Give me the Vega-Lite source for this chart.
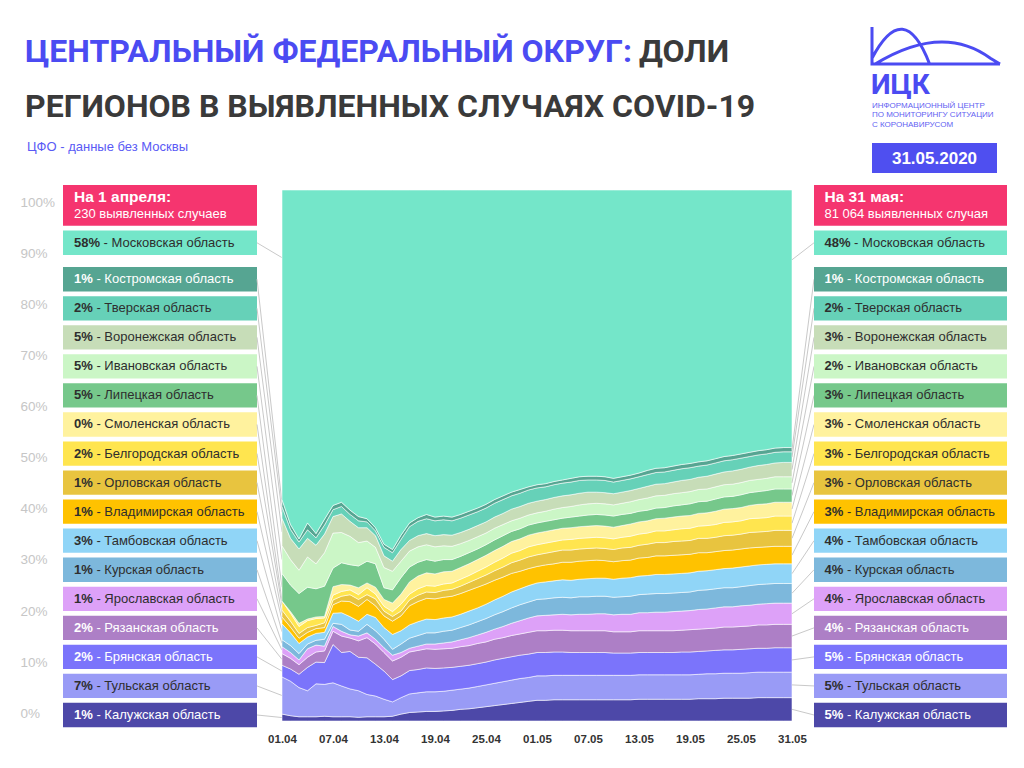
{
  "$schema": "https://vega.github.io/schema/vega-lite/v6.json",
  "autosize": {"type": "pad"},
  "padding": {"left": 20, "top": 0, "right": 17, "bottom": 5},
  "background": "white",
  "bounds": "flush",
  "spacing": 0,
  "config": {"view": {"stroke": null}, "font": "Liberation Sans", "axis": {"labelFont": "Liberation Sans"}},
  "datasets": {
    "regions": [
      {"r":"kal","rank":0,"name":"Калужская область","p0":1,"p1":5},
      {"r":"tul","rank":1,"name":"Тульская область","p0":7,"p1":5},
      {"r":"bry","rank":2,"name":"Брянская область","p0":2,"p1":5},
      {"r":"ryaz","rank":3,"name":"Рязанская область","p0":2,"p1":4},
      {"r":"yar","rank":4,"name":"Ярославская область","p0":1,"p1":4},
      {"r":"kur","rank":5,"name":"Курская область","p0":1,"p1":4},
      {"r":"tamb","rank":6,"name":"Тамбовская область","p0":3,"p1":4},
      {"r":"vlad","rank":7,"name":"Владимирская область","p0":1,"p1":3},
      {"r":"orl","rank":8,"name":"Орловская область","p0":1,"p1":3},
      {"r":"belg","rank":9,"name":"Белгородская область","p0":2,"p1":3},
      {"r":"smol","rank":10,"name":"Смоленская область","p0":0,"p1":3},
      {"r":"lip","rank":11,"name":"Липецкая область","p0":5,"p1":3},
      {"r":"ivan","rank":12,"name":"Ивановская область","p0":5,"p1":2},
      {"r":"vor","rank":13,"name":"Воронежская область","p0":5,"p1":3},
      {"r":"tver","rank":14,"name":"Тверская область","p0":2,"p1":2},
      {"r":"kost","rank":15,"name":"Костромская область","p0":1,"p1":1},
      {"r":"mos","rank":16,"name":"Московская область","p0":58,"p1":48}
    ],
    "daily": [
      {"d":"2020-04-01","kal":1.3,"tul":7.0,"bry":2.2,"ryaz":2.2,"yar":1.3,"kur":1.3,"tamb":3.0,"vlad":1.3,"orl":1.3,"belg":1.7,"smol":0,"lip":5.2,"ivan":5.2,"vor":5.2,"tver":2.2,"kost":1.3,"mos":58.3},
      {"d":"2020-04-02","kal":1.0,"tul":6.5,"bry":2.3,"ryaz":2.0,"yar":1.1,"kur":1.3,"tamb":2.4,"vlad":1.1,"orl":1.1,"belg":1.5,"smol":0.3,"lip":5.0,"ivan":4.8,"vor":4.0,"tver":1.7,"kost":0.9,"mos":63.0},
      {"d":"2020-04-03","kal":0.8,"tul":5.5,"bry":2.5,"ryaz":1.8,"yar":0.9,"kur":1.2,"tamb":1.9,"vlad":1.0,"orl":0.9,"belg":1.3,"smol":0.6,"lip":5.6,"ivan":4.4,"vor":4.0,"tver":1.3,"kost":0.6,"mos":65.7},
      {"d":"2020-04-04","kal":0.8,"tul":4.9,"bry":4.4,"ryaz":1.9,"yar":1.6,"kur":0.9,"tamb":1.3,"vlad":0.9,"orl":0.9,"belg":1.3,"smol":0.3,"lip":6.0,"ivan":5.7,"vor":3.5,"tver":1.6,"kost":1.3,"mos":62.7},
      {"d":"2020-04-05","kal":0.8,"tul":6.2,"bry":4.1,"ryaz":1.9,"yar":1.3,"kur":0.9,"tamb":1.3,"vlad":0.9,"orl":0.6,"belg":1.3,"smol":0.3,"lip":5.3,"ivan":4.7,"vor":3.5,"tver":1.4,"kost":0.8,"mos":64.7},
      {"d":"2020-04-06","kal":0.9,"tul":6.0,"bry":4.1,"ryaz":2.2,"yar":0.9,"kur":1.3,"tamb":1.3,"vlad":0.9,"orl":0.9,"belg":0.9,"smol":0.3,"lip":5.7,"ivan":6.3,"vor":3.5,"tver":1.7,"kost":1.1,"mos":62.0},
      {"d":"2020-04-07","kal":0.8,"tul":6.4,"bry":7.2,"ryaz":2.5,"yar":0.9,"kur":0.6,"tamb":1.9,"vlad":1.6,"orl":0.9,"belg":0.9,"smol":1.6,"lip":3.5,"ivan":6.6,"vor":3.1,"tver":1.3,"kost":0.8,"mos":59.4},
      {"d":"2020-04-08","kal":0.8,"tul":5.8,"bry":6.3,"ryaz":3.1,"yar":0.9,"kur":1.3,"tamb":2.2,"vlad":2.2,"orl":0.9,"belg":0.9,"smol":1.3,"lip":4.1,"ivan":5.7,"vor":3.5,"tver":1.4,"kost":0.8,"mos":58.8},
      {"d":"2020-04-09","kal":0.8,"tul":5.2,"bry":7.0,"ryaz":2.5,"yar":0.6,"kur":0.9,"tamb":2.5,"vlad":2.8,"orl":1.3,"belg":0.9,"smol":0.9,"lip":3.8,"ivan":5.3,"vor":2.8,"tver":1.3,"kost":0.8,"mos":59.8},
      {"d":"2020-04-10","kal":0.7,"tul":5.0,"bry":6.3,"ryaz":3.1,"yar":0.9,"kur":0.9,"tamb":1.9,"vlad":2.8,"orl":1.3,"belg":0.9,"smol":1.3,"lip":4.1,"ivan":4.4,"vor":2.8,"tver":1.3,"kost":0.8,"mos":61.5},
      {"d":"2020-04-11","kal":0.8,"tul":4.2,"bry":6.9,"ryaz":3.8,"yar":0.9,"kur":1.6,"tamb":1.9,"vlad":2.8,"orl":0.9,"belg":1.3,"smol":0.9,"lip":4.1,"ivan":3.8,"vor":2.5,"tver":1.1,"kost":0.6,"mos":61.9},
      {"d":"2020-04-12","kal":0.8,"tul":3.9,"bry":6.0,"ryaz":3.8,"yar":0.9,"kur":1.6,"tamb":2.5,"vlad":2.2,"orl":1.3,"belg":0.9,"smol":1.3,"lip":4.4,"ivan":3.1,"vor":2.2,"tver":0.9,"kost":0.6,"mos":63.6},
      {"d":"2020-04-13","kal":0.8,"tul":3.3,"bry":5.3,"ryaz":3.5,"yar":0.9,"kur":1.6,"tamb":2.2,"vlad":2.2,"orl":0.9,"belg":0.9,"smol":1.3,"lip":2.2,"ivan":3.8,"vor":2.2,"tver":1.6,"kost":0.6,"mos":66.7},
      {"d":"2020-04-14","kal":0.9,"tul":2.7,"bry":4.2,"ryaz":3.5,"yar":1.1,"kur":1.1,"tamb":2.8,"vlad":2.5,"orl":0.9,"belg":0.9,"smol":1.6,"lip":2.5,"ivan":3.5,"vor":1.9,"tver":1.6,"kost":0.6,"mos":67.7},
      {"d":"2020-04-15","kal":1.3,"tul":3.1,"bry":4.1,"ryaz":3.5,"yar":0.9,"kur":1.6,"tamb":2.5,"vlad":2.8,"orl":0.9,"belg":1.3,"smol":1.9,"lip":3.1,"ivan":3.1,"vor":2.2,"tver":1.9,"kost":0.8,"mos":65.0},
      {"d":"2020-04-16","kal":1.6,"tul":3.5,"bry":4.4,"ryaz":3.5,"yar":0.7,"kur":1.9,"tamb":2.5,"vlad":3.6,"orl":1.1,"belg":1.1,"smol":2.3,"lip":2.8,"ivan":3.0,"vor":2.0,"tver":2.6,"kost":0.7,"mos":62.7},
      {"d":"2020-04-17","kal":1.7,"tul":3.6,"bry":4.4,"ryaz":3.6,"yar":0.8,"kur":2.0,"tamb":2.6,"vlad":3.8,"orl":1.2,"belg":1.2,"smol":2.4,"lip":2.6,"ivan":2.9,"vor":2.1,"tver":2.7,"kost":0.7,"mos":61.7},
      {"d":"2020-04-18","kal":1.8,"tul":3.7,"bry":4.5,"ryaz":3.6,"yar":0.9,"kur":2.1,"tamb":2.6,"vlad":3.9,"orl":1.2,"belg":1.2,"smol":2.4,"lip":2.5,"ivan":2.8,"vor":2.1,"tver":2.8,"kost":0.8,"mos":61.1},
      {"d":"2020-04-19","kal":1.8,"tul":3.7,"bry":4.4,"ryaz":3.6,"yar":1.0,"kur":2.1,"tamb":2.5,"vlad":3.9,"orl":1.2,"belg":1.2,"smol":2.3,"lip":2.4,"ivan":2.7,"vor":2.1,"tver":2.8,"kost":0.7,"mos":61.6},
      {"d":"2020-04-20","kal":1.9,"tul":3.7,"bry":4.4,"ryaz":3.6,"yar":1.1,"kur":2.2,"tamb":2.5,"vlad":3.9,"orl":1.3,"belg":1.2,"smol":2.3,"lip":2.3,"ivan":2.6,"vor":2.1,"tver":2.8,"kost":0.7,"mos":61.4},
      {"d":"2020-04-21","kal":2.0,"tul":3.8,"bry":4.3,"ryaz":3.6,"yar":1.2,"kur":2.2,"tamb":2.5,"vlad":3.9,"orl":1.3,"belg":1.2,"smol":2.2,"lip":2.2,"ivan":2.5,"vor":2.1,"tver":2.7,"kost":0.7,"mos":61.6},
      {"d":"2020-04-22","kal":2.2,"tul":3.8,"bry":4.3,"ryaz":3.7,"yar":1.3,"kur":2.3,"tamb":2.5,"vlad":3.9,"orl":1.4,"belg":1.3,"smol":2.2,"lip":2.1,"ivan":2.4,"vor":2.1,"tver":2.7,"kost":0.7,"mos":61.1},
      {"d":"2020-04-23","kal":2.3,"tul":3.9,"bry":4.3,"ryaz":3.7,"yar":1.5,"kur":2.4,"tamb":2.6,"vlad":3.9,"orl":1.5,"belg":1.3,"smol":2.2,"lip":2.1,"ivan":2.3,"vor":2.1,"tver":2.7,"kost":0.7,"mos":60.5},
      {"d":"2020-04-24","kal":2.5,"tul":4.0,"bry":4.3,"ryaz":3.8,"yar":1.6,"kur":2.5,"tamb":2.6,"vlad":3.9,"orl":1.6,"belg":1.4,"smol":2.2,"lip":2.0,"ivan":2.3,"vor":2.1,"tver":2.6,"kost":0.7,"mos":59.9},
      {"d":"2020-04-25","kal":2.7,"tul":4.1,"bry":4.3,"ryaz":3.8,"yar":1.8,"kur":2.6,"tamb":2.7,"vlad":3.8,"orl":1.7,"belg":1.5,"smol":2.2,"lip":2.0,"ivan":2.2,"vor":2.1,"tver":2.6,"kost":0.7,"mos":59.2},
      {"d":"2020-04-26","kal":2.9,"tul":4.2,"bry":4.4,"ryaz":3.9,"yar":1.9,"kur":2.7,"tamb":2.8,"vlad":3.7,"orl":1.8,"belg":1.6,"smol":2.2,"lip":2.0,"ivan":2.2,"vor":2.1,"tver":2.6,"kost":0.7,"mos":58.3},
      {"d":"2020-04-27","kal":3.1,"tul":4.3,"bry":4.4,"ryaz":3.9,"yar":2.1,"kur":2.8,"tamb":2.9,"vlad":3.6,"orl":1.9,"belg":1.7,"smol":2.2,"lip":2.0,"ivan":2.1,"vor":2.1,"tver":2.6,"kost":0.7,"mos":57.6},
      {"d":"2020-04-28","kal":3.3,"tul":4.4,"bry":4.4,"ryaz":4.0,"yar":2.3,"kur":2.9,"tamb":3.0,"vlad":3.5,"orl":2.0,"belg":1.8,"smol":2.2,"lip":1.9,"ivan":2.0,"vor":2.2,"tver":2.5,"kost":0.7,"mos":56.9},
      {"d":"2020-04-29","kal":3.5,"tul":4.5,"bry":4.4,"ryaz":4.0,"yar":2.5,"kur":3.0,"tamb":3.0,"vlad":3.3,"orl":2.1,"belg":1.8,"smol":2.2,"lip":1.9,"ivan":2.0,"vor":2.2,"tver":2.5,"kost":0.7,"mos":56.4},
      {"d":"2020-04-30","kal":3.7,"tul":4.5,"bry":4.4,"ryaz":4.1,"yar":2.7,"kur":3.0,"tamb":3.1,"vlad":3.2,"orl":2.2,"belg":1.9,"smol":2.2,"lip":1.9,"ivan":1.9,"vor":2.2,"tver":2.5,"kost":0.6,"mos":55.9},
      {"d":"2020-05-01","kal":3.9,"tul":4.6,"bry":4.4,"ryaz":4.1,"yar":2.8,"kur":3.1,"tamb":3.1,"vlad":3.1,"orl":2.2,"belg":1.9,"smol":2.2,"lip":1.9,"ivan":1.9,"vor":2.2,"tver":2.5,"kost":0.6,"mos":55.5},
      {"d":"2020-05-02","kal":3.9,"tul":4.6,"bry":4.4,"ryaz":4.1,"yar":2.9,"kur":3.1,"tamb":3.2,"vlad":3.2,"orl":2.2,"belg":1.9,"smol":2.2,"lip":1.9,"ivan":1.9,"vor":2.2,"tver":2.4,"kost":0.6,"mos":55.3},
      {"d":"2020-05-03","kal":4.0,"tul":4.6,"bry":4.4,"ryaz":4.1,"yar":2.9,"kur":3.2,"tamb":3.2,"vlad":3.2,"orl":2.3,"belg":1.9,"smol":2.2,"lip":1.9,"ivan":2.0,"vor":2.2,"tver":2.4,"kost":0.6,"mos":54.9},
      {"d":"2020-05-04","kal":4.0,"tul":4.6,"bry":4.4,"ryaz":4.1,"yar":3.0,"kur":3.2,"tamb":3.3,"vlad":3.3,"orl":2.3,"belg":1.9,"smol":2.2,"lip":1.9,"ivan":2.0,"vor":2.2,"tver":2.4,"kost":0.6,"mos":54.6},
      {"d":"2020-05-05","kal":4.0,"tul":4.6,"bry":4.3,"ryaz":4.1,"yar":3.0,"kur":3.2,"tamb":3.3,"vlad":3.4,"orl":2.3,"belg":2.0,"smol":2.2,"lip":2.0,"ivan":2.0,"vor":2.2,"tver":2.4,"kost":0.7,"mos":54.3},
      {"d":"2020-05-06","kal":4.0,"tul":4.6,"bry":4.3,"ryaz":4.1,"yar":3.1,"kur":3.3,"tamb":3.3,"vlad":3.4,"orl":2.3,"belg":2.0,"smol":2.2,"lip":2.0,"ivan":2.1,"vor":2.2,"tver":2.4,"kost":0.7,"mos":54.0},
      {"d":"2020-05-07","kal":4.0,"tul":4.6,"bry":4.3,"ryaz":4.1,"yar":3.1,"kur":3.3,"tamb":3.4,"vlad":3.4,"orl":2.3,"belg":2.0,"smol":2.2,"lip":2.1,"ivan":2.1,"vor":2.2,"tver":2.3,"kost":0.7,"mos":53.9},
      {"d":"2020-05-08","kal":4.0,"tul":4.6,"bry":4.3,"ryaz":4.1,"yar":3.2,"kur":3.3,"tamb":3.4,"vlad":3.4,"orl":2.3,"belg":2.0,"smol":2.2,"lip":2.1,"ivan":2.1,"vor":2.1,"tver":2.3,"kost":0.7,"mos":53.9},
      {"d":"2020-05-09","kal":4.0,"tul":4.6,"bry":4.3,"ryaz":4.1,"yar":3.2,"kur":3.3,"tamb":3.4,"vlad":3.3,"orl":2.3,"belg":2.0,"smol":2.2,"lip":2.1,"ivan":2.1,"vor":2.1,"tver":2.3,"kost":0.7,"mos":54.0},
      {"d":"2020-05-10","kal":4.0,"tul":4.6,"bry":4.2,"ryaz":4.0,"yar":3.2,"kur":3.3,"tamb":3.4,"vlad":3.3,"orl":2.3,"belg":2.0,"smol":2.2,"lip":2.1,"ivan":2.1,"vor":2.1,"tver":2.2,"kost":0.7,"mos":54.3},
      {"d":"2020-05-11","kal":4.0,"tul":4.6,"bry":4.2,"ryaz":4.0,"yar":3.3,"kur":3.3,"tamb":3.5,"vlad":3.3,"orl":2.4,"belg":2.0,"smol":2.2,"lip":2.1,"ivan":2.1,"vor":2.1,"tver":2.2,"kost":0.7,"mos":54.0},
      {"d":"2020-05-12","kal":4.0,"tul":4.6,"bry":4.2,"ryaz":4.0,"yar":3.3,"kur":3.4,"tamb":3.5,"vlad":3.3,"orl":2.4,"belg":2.1,"smol":2.3,"lip":2.0,"ivan":2.2,"vor":2.1,"tver":2.2,"kost":0.7,"mos":53.7},
      {"d":"2020-05-13","kal":4.1,"tul":4.6,"bry":4.2,"ryaz":4.1,"yar":3.4,"kur":3.4,"tamb":3.5,"vlad":3.4,"orl":2.4,"belg":2.1,"smol":2.3,"lip":2.0,"ivan":2.2,"vor":2.1,"tver":2.2,"kost":0.7,"mos":53.3},
      {"d":"2020-05-14","kal":4.1,"tul":4.6,"bry":4.2,"ryaz":4.1,"yar":3.4,"kur":3.5,"tamb":3.5,"vlad":3.4,"orl":2.5,"belg":2.1,"smol":2.3,"lip":2.0,"ivan":2.3,"vor":2.2,"tver":2.2,"kost":0.8,"mos":52.8},
      {"d":"2020-05-15","kal":4.1,"tul":4.6,"bry":4.2,"ryaz":4.1,"yar":3.5,"kur":3.5,"tamb":3.6,"vlad":3.5,"orl":2.5,"belg":2.2,"smol":2.3,"lip":2.0,"ivan":2.3,"vor":2.2,"tver":2.2,"kost":0.8,"mos":52.4},
      {"d":"2020-05-16","kal":4.1,"tul":4.6,"bry":4.2,"ryaz":4.1,"yar":3.5,"kur":3.5,"tamb":3.6,"vlad":3.5,"orl":2.5,"belg":2.2,"smol":2.4,"lip":2.0,"ivan":2.3,"vor":2.2,"tver":2.2,"kost":0.8,"mos":52.3},
      {"d":"2020-05-17","kal":4.1,"tul":4.6,"bry":4.2,"ryaz":4.1,"yar":3.6,"kur":3.5,"tamb":3.6,"vlad":3.5,"orl":2.6,"belg":2.2,"smol":2.4,"lip":2.1,"ivan":2.3,"vor":2.2,"tver":2.2,"kost":0.8,"mos":52.0},
      {"d":"2020-05-18","kal":4.1,"tul":4.6,"bry":4.3,"ryaz":4.1,"yar":3.6,"kur":3.5,"tamb":3.6,"vlad":3.5,"orl":2.6,"belg":2.3,"smol":2.4,"lip":2.1,"ivan":2.3,"vor":2.3,"tver":2.2,"kost":0.8,"mos":51.7},
      {"d":"2020-05-19","kal":4.1,"tul":4.6,"bry":4.3,"ryaz":4.2,"yar":3.6,"kur":3.5,"tamb":3.6,"vlad":3.5,"orl":2.6,"belg":2.3,"smol":2.4,"lip":2.2,"ivan":2.3,"vor":2.3,"tver":2.2,"kost":0.8,"mos":51.5},
      {"d":"2020-05-20","kal":4.2,"tul":4.6,"bry":4.3,"ryaz":4.2,"yar":3.7,"kur":3.6,"tamb":3.6,"vlad":3.5,"orl":2.7,"belg":2.3,"smol":2.4,"lip":2.2,"ivan":2.3,"vor":2.3,"tver":2.1,"kost":0.8,"mos":51.2},
      {"d":"2020-05-21","kal":4.2,"tul":4.7,"bry":4.3,"ryaz":4.2,"yar":3.7,"kur":3.6,"tamb":3.6,"vlad":3.4,"orl":2.7,"belg":2.4,"smol":2.4,"lip":2.2,"ivan":2.3,"vor":2.4,"tver":2.1,"kost":0.8,"mos":51.0},
      {"d":"2020-05-22","kal":4.2,"tul":4.7,"bry":4.4,"ryaz":4.2,"yar":3.8,"kur":3.6,"tamb":3.6,"vlad":3.4,"orl":2.7,"belg":2.4,"smol":2.5,"lip":2.3,"ivan":2.3,"vor":2.4,"tver":2.1,"kost":0.8,"mos":50.6},
      {"d":"2020-05-23","kal":4.3,"tul":4.7,"bry":4.4,"ryaz":4.3,"yar":3.8,"kur":3.6,"tamb":3.6,"vlad":3.4,"orl":2.8,"belg":2.5,"smol":2.5,"lip":2.3,"ivan":2.3,"vor":2.4,"tver":2.1,"kost":0.8,"mos":50.2},
      {"d":"2020-05-24","kal":4.3,"tul":4.7,"bry":4.4,"ryaz":4.3,"yar":3.8,"kur":3.6,"tamb":3.7,"vlad":3.4,"orl":2.8,"belg":2.5,"smol":2.5,"lip":2.3,"ivan":2.3,"vor":2.5,"tver":2.1,"kost":0.8,"mos":50.0},
      {"d":"2020-05-25","kal":4.3,"tul":4.7,"bry":4.5,"ryaz":4.3,"yar":3.9,"kur":3.6,"tamb":3.7,"vlad":3.4,"orl":2.8,"belg":2.5,"smol":2.5,"lip":2.4,"ivan":2.3,"vor":2.5,"tver":2.1,"kost":0.8,"mos":49.7},
      {"d":"2020-05-26","kal":4.3,"tul":4.8,"bry":4.5,"ryaz":4.3,"yar":3.9,"kur":3.7,"tamb":3.7,"vlad":3.4,"orl":2.9,"belg":2.6,"smol":2.5,"lip":2.4,"ivan":2.3,"vor":2.5,"tver":2.0,"kost":0.8,"mos":49.4},
      {"d":"2020-05-27","kal":4.4,"tul":4.8,"bry":4.5,"ryaz":4.4,"yar":3.9,"kur":3.7,"tamb":3.7,"vlad":3.3,"orl":2.9,"belg":2.6,"smol":2.6,"lip":2.4,"ivan":2.3,"vor":2.6,"tver":2.0,"kost":0.8,"mos":49.1},
      {"d":"2020-05-28","kal":4.4,"tul":4.8,"bry":4.5,"ryaz":4.4,"yar":4.0,"kur":3.7,"tamb":3.7,"vlad":3.3,"orl":2.9,"belg":2.6,"smol":2.6,"lip":2.5,"ivan":2.3,"vor":2.6,"tver":2.0,"kost":0.8,"mos":48.9},
      {"d":"2020-05-29","kal":4.4,"tul":4.8,"bry":4.6,"ryaz":4.4,"yar":4.0,"kur":3.7,"tamb":3.7,"vlad":3.3,"orl":3.0,"belg":2.7,"smol":2.6,"lip":2.5,"ivan":2.3,"vor":2.6,"tver":2.0,"kost":0.8,"mos":48.6},
      {"d":"2020-05-30","kal":4.4,"tul":4.8,"bry":4.6,"ryaz":4.4,"yar":4.0,"kur":3.7,"tamb":3.7,"vlad":3.3,"orl":3.0,"belg":2.7,"smol":2.6,"lip":2.5,"ivan":2.3,"vor":2.7,"tver":2.0,"kost":0.8,"mos":48.5},
      {"d":"2020-05-31","kal":4.4,"tul":4.8,"bry":4.6,"ryaz":4.4,"yar":4.0,"kur":3.7,"tamb":3.7,"vlad":3.3,"orl":3.0,"belg":2.7,"smol":2.6,"lip":2.5,"ivan":2.3,"vor":2.7,"tver":2.0,"kost":0.8,"mos":48.5}
    ]
  },
  "vconcat": [
    {
      "width": 944,
      "height": 190,
      "data": {"values": [{}]},
      "layer": [
        {"mark": {"type": "text", "text": "ЦЕНТРАЛЬНЫЙ ФЕДЕРАЛЬНЫЙ ОКРУГ:", "font": "Roboto", "fontSize": 32, "fontWeight": "bold", "fill": "#4b4bf2", "align": "left", "baseline": "alphabetic", "x": -38, "y": 62}},
        {"mark": {"type": "text", "text": "ДОЛИ", "font": "Roboto", "fontSize": 32, "fontWeight": "bold", "fill": "#3a3a3a", "align": "left", "baseline": "alphabetic", "x": 576, "y": 62}},
        {"mark": {"type": "text", "text": "РЕГИОНОВ В ВЫЯВЛЕННЫХ СЛУЧАЯХ COVID-19", "font": "Roboto", "fontSize": 32, "fontWeight": "bold", "fill": "#3a3a3a", "align": "left", "baseline": "alphabetic", "x": -38, "y": 117}},
        {"mark": {"type": "text", "text": "ЦФО - данные без Москвы", "fontSize": 13, "fill": "#5a5af5", "align": "left", "baseline": "alphabetic", "x": -36, "y": 151}},
        {"mark": {"type": "point", "shape": "M-1,-0.29 L-1,0.29 L1,0.29 M-1,0.2 Q-0.5,-0.75 -0.1,0.29 M-0.95,0.29 Q0.1,-0.35 0.85,0.2 L1,0.29", "filled": false, "stroke": "#4b4bf2", "strokeWidth": 3, "size": 16384, "opacity": 1, "x": 873, "y": 45.5}},
        {"mark": {"type": "text", "text": "ИЦК", "font": "Roboto", "fontSize": 28, "fontWeight": "bold", "fill": "#4b4bf2", "align": "left", "baseline": "alphabetic", "x": 808, "y": 94}},
        {"mark": {"type": "text", "text": "ИНФОРМАЦИОННЫЙ ЦЕНТР", "fontSize": 8, "letterSpacing": 0.9, "fill": "#6262f2", "align": "left", "baseline": "alphabetic", "x": 809, "y": 107.5}},
        {"mark": {"type": "text", "text": "ПО МОНИТОРИНГУ СИТУАЦИИ", "fontSize": 8, "letterSpacing": 0.9, "fill": "#6262f2", "align": "left", "baseline": "alphabetic", "x": 809, "y": 117}},
        {"mark": {"type": "text", "text": "С КОРОНАВИРУСОМ", "fontSize": 8, "letterSpacing": 0.9, "fill": "#6262f2", "align": "left", "baseline": "alphabetic", "x": 809, "y": 126.5}},
        {"mark": {"type": "rect", "x": 809, "x2": 934, "y": 143, "y2": 173, "fill": "#4f4ff0"}},
        {"mark": {"type": "text", "text": "31.05.2020", "fontSize": 17, "fontWeight": "bold", "letterSpacing": 1, "fill": "white", "align": "center", "baseline": "middle", "x": 871.5, "y": 159}}
      ]
    },
    {
      "spacing": 0,
      "bounds": "flush",
      "hconcat": [
        {
          "width": 194,
          "height": 531,
          "resolve": {"scale": {"y": "independent"}, "axis": {"y": "independent"}},
          "layer": [
            {
              "data": {"values": [{"v": 0}, {"v": 100}]},
              "mark": {"type": "rule", "strokeOpacity": 0},
              "encoding": {
                "y": {"field": "v", "type": "quantitative", "scale": {"domain": [-1.507, 102.407], "nice": false, "zero": false},
                  "axis": {"orient": "left", "values": [0, 10, 20, 30, 40, 50, 60, 70, 80, 90, 100], "labelExpr": "datum.value + '%'", "domain": false, "ticks": false, "tickSize": 0, "grid": false, "title": null, "labelPadding": 43, "labelAlign": "left", "labelFontSize": 13.5, "labelColor": "#c6c6c6", "labelFont": "Liberation Sans"}}
              }
            },
            {
              "data": {"name": "regions"},
              "transform": [
                {"calculate": "datum.rank < 16 ? 0.0113 + 0.05471 * datum.rank : 0.9006", "as": "pos"},
                {"calculate": "datum.pos - 0.0229", "as": "lo"},
                {"calculate": "datum.pos + 0.0229", "as": "hi"},
                {"calculate": "datum.p0 + '%'", "as": "pt"},
                {"calculate": "'- ' + datum.name", "as": "nt"}
              ],
              "layer": [
                {
                  "mark": {"type": "rect"},
                  "encoding": {
                    "y": {"field": "lo", "type": "quantitative", "scale": {"domain": [0, 1], "nice": false, "zero": false}, "axis": null},
                    "y2": {"field": "hi"},
                    "color": {"field": "r", "type": "nominal", "legend": null, "scale": {"domain": ["kal","tul","bry","ryaz","yar","kur","tamb","vlad","orl","belg","smol","lip","ivan","vor","tver","kost","mos"], "range": ["#4d48a8","#999bf6","#7b74fb","#ad7fc6","#dda1f8","#7db8dc","#90d5f7","#ffc200","#e8c43f","#ffe54f","#fff29e","#76c88b","#cbf6c6","#c7ddb8","#66d1b8","#56a592","#74e6c9"]}}
                  }
                },
                {
                  "mark": {"type": "text", "align": "left", "baseline": "middle", "dx": -86, "fontSize": 13, "fontWeight": "bold"},
                  "encoding": {
                    "y": {"field": "pos", "type": "quantitative", "axis": null},
                    "text": {"field": "pt"},
                    "color": {"condition": {"test": "indexof(['kost','ryaz','bry','kal'], datum.r) >= 0", "value": "#ffffff"}, "value": "#2e2e2e"}
                  }
                },
                {
                  "transform": [{"filter": "datum.rank < 16"}],
                  "mark": {"type": "text", "align": "left", "baseline": "middle", "dx": -63.6, "fontSize": 13},
                  "encoding": {
                    "y": {"field": "pos", "type": "quantitative", "axis": null},
                    "text": {"field": "nt"},
                    "color": {"condition": {"test": "indexof(['kost','ryaz','bry','kal'], datum.r) >= 0", "value": "#ffffff"}, "value": "#2e2e2e"}
                  }
                },
                {
                  "transform": [{"filter": "datum.rank == 16"}],
                  "mark": {"type": "text", "align": "left", "baseline": "middle", "dx": -56.4, "fontSize": 13, "fill": "#2e2e2e"},
                  "encoding": {
                    "y": {"field": "pos", "type": "quantitative", "axis": null},
                    "text": {"field": "nt"}
                  }
                },
                {
                  "data": {"values": [{}]},
                  "mark": {"type": "rect", "fill": "#f5356f"},
                  "encoding": {
                    "y": {"datum": 0.9328, "type": "quantitative", "axis": null},
                    "y2": {"datum": 1.0094}
                  }
                },
                {
                  "data": {"values": [{}]},
                  "mark": {"type": "text", "text": "На 1 апреля:", "align": "left", "baseline": "alphabetic", "dx": -86, "fontSize": 15.5, "fontWeight": "bold", "fill": "white"},
                  "encoding": {"y": {"datum": 0.9774, "type": "quantitative", "axis": null}}
                },
                {
                  "data": {"values": [{}]},
                  "mark": {"type": "text", "text": "230 выявленных случаев", "align": "left", "baseline": "alphabetic", "dx": -86, "fontSize": 13, "fill": "white"},
                  "encoding": {"y": {"datum": 0.9482, "type": "quantitative", "axis": null}}
                }
              ]
            }
          ]
        },
        {
          "width": 25,
          "height": 531,
          "data": {"name": "daily"},
          "transform": [
            {"filter": "time(toDate(datum.d)) == time(toDate('2020-04-01'))"},
            {"fold": ["kal","tul","bry","ryaz","yar","kur","tamb","vlad","orl","belg","smol","lip","ivan","vor","tver","kost","mos"], "as": ["r", "v"]},
            {"lookup": "r", "from": {"data": {"name": "regions"}, "key": "r", "fields": ["rank"]}},
            {"stack": "v", "groupby": [], "sort": [{"field": "rank", "order": "ascending"}], "offset": "normalize", "as": ["s0", "s1"]},
            {"calculate": "datum.rank < 16 ? 0.0113 + 0.05471 * datum.rank : 0.9006", "as": "pos"},
            {"calculate": "datum.rank < 16 ? (datum.s0 + datum.s1) / 2 : datum.pos - 0.028", "as": "end"}
          ],
          "mark": {"type": "rule", "stroke": "#c9c9c9", "strokeWidth": 1},
          "encoding": {
            "x": {"datum": 0, "type": "quantitative", "scale": {"domain": [0, 1], "nice": false, "zero": false}, "axis": null},
            "x2": {"datum": 1},
            "y": {"field": "pos", "type": "quantitative", "scale": {"domain": [0, 1], "nice": false, "zero": false}, "axis": null},
            "y2": {"field": "end"}
          }
        },
        {
          "width": 510,
          "height": 531,
          "data": {"name": "daily"},
          "transform": [
            {"fold": ["kal","tul","bry","ryaz","yar","kur","tamb","vlad","orl","belg","smol","lip","ivan","vor","tver","kost","mos"], "as": ["r", "v"]},
            {"lookup": "r", "from": {"data": {"name": "regions"}, "key": "r", "fields": ["rank"]}}
          ],
          "mark": {"type": "area", "interpolate": "linear", "stroke": "white", "strokeWidth": 0.8, "strokeOpacity": 0.7},
          "encoding": {
            "x": {"field": "d", "type": "temporal", "scale": {"type": "utc", "nice": false},
              "axis": {"values": [
                {"year": 2020, "month": "apr", "date": 1, "utc": true},
                {"year": 2020, "month": "apr", "date": 7, "utc": true},
                {"year": 2020, "month": "apr", "date": 13, "utc": true},
                {"year": 2020, "month": "apr", "date": 19, "utc": true},
                {"year": 2020, "month": "apr", "date": 25, "utc": true},
                {"year": 2020, "month": "may", "date": 1, "utc": true},
                {"year": 2020, "month": "may", "date": 7, "utc": true},
                {"year": 2020, "month": "may", "date": 13, "utc": true},
                {"year": 2020, "month": "may", "date": 19, "utc": true},
                {"year": 2020, "month": "may", "date": 25, "utc": true},
                {"year": 2020, "month": "may", "date": 31, "utc": true}
              ], "format": "%d.%m", "labelFontWeight": "bold", "labelFontSize": 11.5, "labelColor": "#333333", "ticks": false, "domain": false, "grid": false, "title": null, "labelPadding": 12, "labelFlush": false, "labelOverlap": false, "labelFont": "Liberation Sans"}},
            "y": {"field": "v", "type": "quantitative", "stack": "normalize", "scale": {"domain": [0, 1], "nice": false}, "axis": null},
            "color": {"field": "r", "type": "nominal", "legend": null, "scale": {"domain": ["kal","tul","bry","ryaz","yar","kur","tamb","vlad","orl","belg","smol","lip","ivan","vor","tver","kost","mos"], "range": ["#4d48a8","#999bf6","#7b74fb","#ad7fc6","#dda1f8","#7db8dc","#90d5f7","#ffc200","#e8c43f","#ffe54f","#fff29e","#76c88b","#cbf6c6","#c7ddb8","#66d1b8","#56a592","#74e6c9"]}},
            "order": {"field": "rank", "type": "quantitative", "sort": "ascending"}
          }
        },
        {
          "width": 22,
          "height": 531,
          "data": {"name": "daily"},
          "transform": [
            {"filter": "time(toDate(datum.d)) == time(toDate('2020-05-31'))"},
            {"fold": ["kal","tul","bry","ryaz","yar","kur","tamb","vlad","orl","belg","smol","lip","ivan","vor","tver","kost","mos"], "as": ["r", "v"]},
            {"lookup": "r", "from": {"data": {"name": "regions"}, "key": "r", "fields": ["rank"]}},
            {"stack": "v", "groupby": [], "sort": [{"field": "rank", "order": "ascending"}], "offset": "normalize", "as": ["s0", "s1"]},
            {"calculate": "datum.rank < 16 ? 0.0113 + 0.05471 * datum.rank : 0.9006", "as": "pos"},
            {"calculate": "datum.rank < 16 ? (datum.s0 + datum.s1) / 2 : datum.pos - 0.032", "as": "end"}
          ],
          "mark": {"type": "rule", "stroke": "#c9c9c9", "strokeWidth": 1},
          "encoding": {
            "x": {"datum": 0, "type": "quantitative", "scale": {"domain": [0, 1], "nice": false, "zero": false}, "axis": null},
            "x2": {"datum": 1},
            "y": {"field": "end", "type": "quantitative", "scale": {"domain": [0, 1], "nice": false, "zero": false}, "axis": null},
            "y2": {"field": "pos"}
          }
        },
        {
          "width": 193,
          "height": 531,
          "data": {"name": "regions"},
          "transform": [
            {"calculate": "datum.rank < 16 ? 0.0113 + 0.05471 * datum.rank : 0.9006", "as": "pos"},
            {"calculate": "datum.pos - 0.0229", "as": "lo"},
            {"calculate": "datum.pos + 0.0229", "as": "hi"},
            {"calculate": "datum.p1 + '%'", "as": "pt"},
            {"calculate": "'- ' + datum.name", "as": "nt"}
          ],
          "layer": [
            {
              "mark": {"type": "rect"},
              "encoding": {
                "y": {"field": "lo", "type": "quantitative", "scale": {"domain": [0, 1], "nice": false, "zero": false}, "axis": null},
                "y2": {"field": "hi"},
                "color": {"field": "r", "type": "nominal", "legend": null, "scale": {"domain": ["kal","tul","bry","ryaz","yar","kur","tamb","vlad","orl","belg","smol","lip","ivan","vor","tver","kost","mos"], "range": ["#4d48a8","#999bf6","#7b74fb","#ad7fc6","#dda1f8","#7db8dc","#90d5f7","#ffc200","#e8c43f","#ffe54f","#fff29e","#76c88b","#cbf6c6","#c7ddb8","#66d1b8","#56a592","#74e6c9"]}}
              }
            },
            {
              "mark": {"type": "text", "align": "left", "baseline": "middle", "dx": -86, "fontSize": 13, "fontWeight": "bold"},
              "encoding": {
                "y": {"field": "pos", "type": "quantitative", "axis": null},
                "text": {"field": "pt"},
                "color": {"condition": {"test": "indexof(['kost','ryaz','bry','kal'], datum.r) >= 0", "value": "#ffffff"}, "value": "#2e2e2e"}
              }
            },
            {
              "transform": [{"filter": "datum.rank < 16"}],
              "mark": {"type": "text", "align": "left", "baseline": "middle", "dx": -63.6, "fontSize": 13},
              "encoding": {
                "y": {"field": "pos", "type": "quantitative", "axis": null},
                "text": {"field": "nt"},
                "color": {"condition": {"test": "indexof(['kost','ryaz','bry','kal'], datum.r) >= 0", "value": "#ffffff"}, "value": "#2e2e2e"}
              }
            },
            {
              "transform": [{"filter": "datum.rank == 16"}],
              "mark": {"type": "text", "align": "left", "baseline": "middle", "dx": -56.4, "fontSize": 13, "fill": "#2e2e2e"},
              "encoding": {
                "y": {"field": "pos", "type": "quantitative", "axis": null},
                "text": {"field": "nt"}
              }
            },
            {
              "data": {"values": [{}]},
              "mark": {"type": "rect", "fill": "#f5356f"},
              "encoding": {
                "y": {"datum": 0.9328, "type": "quantitative", "axis": null},
                "y2": {"datum": 1.0094}
              }
            },
            {
              "data": {"values": [{}]},
              "mark": {"type": "text", "text": "На 31 мая:", "align": "left", "baseline": "alphabetic", "dx": -86, "fontSize": 15.5, "fontWeight": "bold", "fill": "white"},
              "encoding": {"y": {"datum": 0.9774, "type": "quantitative", "axis": null}}
            },
            {
              "data": {"values": [{}]},
              "mark": {"type": "text", "text": "81 064 выявленных случая", "align": "left", "baseline": "alphabetic", "dx": -86, "fontSize": 13, "fill": "white"},
              "encoding": {"y": {"datum": 0.9482, "type": "quantitative", "axis": null}}
            }
          ]
        }
      ]
    }
  ]
}
